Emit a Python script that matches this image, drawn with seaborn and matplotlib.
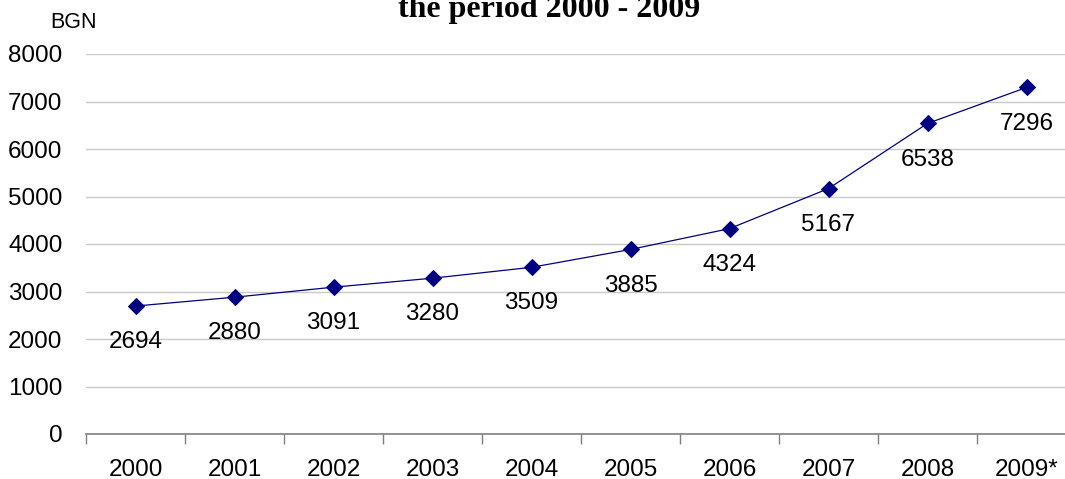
import matplotlib
matplotlib.use("Agg")
import matplotlib.pyplot as plt
import seaborn as sns
import numpy as np
import pandas as pd

years = ["2000", "2001", "2002", "2003", "2004", "2005", "2006", "2007", "2008", "2009*"]
values = [2694, 2880, 3091, 3280, 3509, 3885, 4324, 5167, 6538, 7296]
yticks = [0, 1000, 2000, 3000, 4000, 5000, 6000, 7000, 8000]
title = "the period 2000 - 2009"
unit = "BGN"

sns.set_theme(style="white")
plt.rcParams["font.family"] = ["Liberation Sans", "DejaVu Sans"]
plt.rcParams["text.color"] = "black"
plt.rcParams["xtick.color"] = "black"
plt.rcParams["ytick.color"] = "black"

W, H = 1065, 479
fig = plt.figure(figsize=(W / 100, H / 100), dpi=100)
left, right, bottom, top = 86, 1076, 434, 54
ax = fig.add_axes([left / W, 1 - bottom / H, (right - left) / W, (bottom - top) / H])

df = pd.DataFrame({"pos": np.arange(len(years)), "value": values})
sns.lineplot(data=df, x="pos", y="value", ax=ax, color="#000080", linewidth=0.9,
             marker="D", markersize=8, markeredgecolor="#000080", zorder=3)

fs = 17.5
ax.set_xlim(-0.5, len(years) - 0.5)
ax.set_ylim(yticks[0], yticks[-1])
ax.set_yticks(yticks)
ax.set_yticklabels([str(v) for v in yticks], fontsize=fs)
ax.tick_params(axis="y", length=0, pad=17, labelcolor="black")
ax.grid(axis="y", color="#c8c8c8", linewidth=1)
ax.set_axisbelow(True)

ax.set_xticks(np.arange(len(years) + 1) - 0.5)
ax.set_xticklabels([])
ax.set_xticks(np.arange(len(years)), minor=True)
ax.set_xticklabels(years, minor=True, fontsize=fs)
ax.tick_params(axis="x", which="major", length=7, width=1, color="#808080", direction="out", bottom=True)
ax.tick_params(axis="x", which="minor", length=0, pad=18, labelcolor="black")

for s in ["top", "right", "left"]:
    ax.spines[s].set_visible(False)
ax.spines["bottom"].set_color("#808080")
ax.spines["bottom"].set_linewidth(1.2)
ax.set_xlabel("")
ax.set_ylabel("")

for i, v in enumerate(values):
    ax.annotate(str(v), (i, v), xytext=(0, -26), textcoords="offset points",
                ha="center", va="center", fontsize=fs, color="black")

fig.text(74 / W, 1 - 23 / H, unit, ha="center", va="center", fontsize=15.5, color="black")
fig.text(549 / W, 1 - 17 / H, title, ha="center", va="baseline", fontsize=23,
         family=["Liberation Serif", "DejaVu Serif"], weight="bold", color="black")

fig.savefig("out.png", dpi=100)
